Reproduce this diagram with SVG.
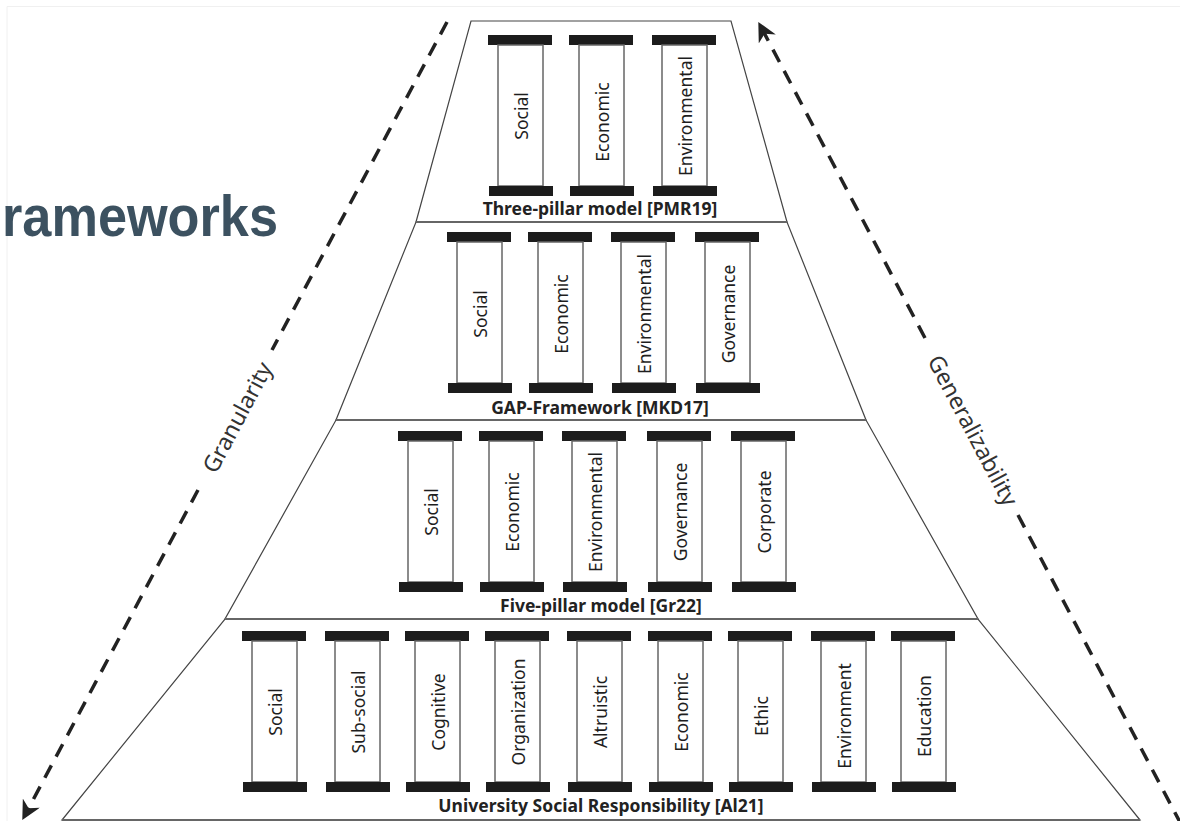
<svg xmlns="http://www.w3.org/2000/svg" xmlns:xlink="http://www.w3.org/1999/xlink" width="1180" height="821" viewBox="0 0 1180 821">
<style>
.tier{fill:#fff;stroke:#444;stroke-width:1.2}
.div{stroke:#666;stroke-width:2}
.pt{font-family:"Noto Sans","Open Sans","DejaVu Sans",sans-serif;font-size:17.5px;fill:#1e1e1e;text-anchor:middle;dominant-baseline:central}
.tl{font-family:"Noto Sans","Open Sans","DejaVu Sans",sans-serif;font-size:17.5px;font-weight:bold;fill:#222;text-anchor:middle}
.ax{font-family:"Noto Sans","Open Sans","DejaVu Sans",sans-serif;font-size:23px;fill:#333;text-anchor:middle;dominant-baseline:central}
.dash{fill:none;stroke:#222;stroke-width:3.5;stroke-dasharray:14 10}
</style>
<defs>
<marker id="ah" viewBox="0 0 10 10" refX="7" refY="5" markerWidth="5.5" markerHeight="5.5" orient="auto" markerUnits="strokeWidth">
<path d="M0,0 L10,5 L0,10 L3,5 z" fill="#222"/>
</marker>
<symbol id="pillar" overflow="visible">
<rect x="0" y="0" width="64" height="10" fill="#1c1c1c"/>
<rect x="10" y="10" width="45" height="141" fill="#fff" stroke="#666" stroke-width="1.5"/>
<rect x="1" y="151" width="64" height="10" fill="#1c1c1c"/>
</symbol>
</defs>
<rect x="0" y="0" width="1180" height="821" fill="#fff"/>
<path d="M7,900 V6.5 H1200" fill="none" stroke="#f0f0f0" stroke-width="1"/>
<text x="2" y="236" font-family="'Liberation Sans',Arial,sans-serif" font-weight="bold" font-size="58" fill="#3c5160" textLength="276" lengthAdjust="spacingAndGlyphs">rameworks</text>

<g id="tiers">
<polygon id="tier1" class="tier" points="471,21 731,21 787,222 416,222"/>
<polygon id="tier2" class="tier" points="416,222 787,222 866,420 336,420"/>
<polygon id="tier3" class="tier" points="336,420 866,420 978,619 225,619"/>
<polygon id="tier4" class="tier" points="225,619 978,619 1140,820 62,820"/>
<line class="div" x1="416" y1="222" x2="787" y2="222"/>
<line class="div" x1="336" y1="420" x2="866" y2="420"/>
<line class="div" x1="225" y1="619" x2="978" y2="619"/>
<line class="div" x1="62" y1="820" x2="1140" y2="820"/>
</g>

<g id="connectors">
<line class="dash" x1="447" y1="22" x2="272" y2="350"/>
<line class="dash" x1="198" y1="490" x2="25" y2="815" marker-end="url(#ah)"/>
<line class="dash" x1="925" y1="338" x2="761" y2="27" marker-end="url(#ah)"/>
<line class="dash" x1="1018" y1="515" x2="1182" y2="826"/>
</g>
<text id="granularity" class="ax" transform="translate(236.6,417) rotate(-61.96)">Granularity</text>
<text id="generalizability" class="ax" transform="translate(973.7,430) rotate(62.24)">Generalizability</text>

<g id="tier1-pillars">
<g id="t1-social"><use href="#pillar" x="488" y="35"/><text class="pt" transform="translate(520.5,116) rotate(-90)">Social</text></g>
<g id="t1-economic"><use href="#pillar" x="569" y="35"/><text class="pt" transform="translate(601.5,122) rotate(-90)">Economic</text></g>
<g id="t1-environmental"><use href="#pillar" x="652" y="35"/><text class="pt" transform="translate(684.5,116) rotate(-90)">Environmental</text></g>
<text id="t1-label" class="tl" x="600" y="215">Three-pillar model [PMR19]</text>
</g>

<g id="tier2-pillars">
<g id="t2-social"><use href="#pillar" x="447" y="232"/><text class="pt" transform="translate(479.5,314) rotate(-90)">Social</text></g>
<g id="t2-economic"><use href="#pillar" x="528" y="232"/><text class="pt" transform="translate(560.5,314) rotate(-90)">Economic</text></g>
<g id="t2-environmental"><use href="#pillar" x="611" y="232"/><text class="pt" transform="translate(643.5,314) rotate(-90)">Environmental</text></g>
<g id="t2-governance"><use href="#pillar" x="695" y="232"/><text class="pt" transform="translate(727.5,314) rotate(-90)">Governance</text></g>
<text id="t2-label" class="tl" x="600" y="414">GAP-Framework [MKD17]</text>
</g>

<g id="tier3-pillars">
<g id="t3-social"><use href="#pillar" x="398" y="431"/><text class="pt" transform="translate(430.5,512) rotate(-90)">Social</text></g>
<g id="t3-economic"><use href="#pillar" x="479" y="431"/><text class="pt" transform="translate(511.5,512) rotate(-90)">Economic</text></g>
<g id="t3-environmental"><use href="#pillar" x="562" y="431"/><text class="pt" transform="translate(594.5,512) rotate(-90)">Environmental</text></g>
<g id="t3-governance"><use href="#pillar" x="647" y="431"/><text class="pt" transform="translate(679.5,512) rotate(-90)">Governance</text></g>
<g id="t3-corporate"><use href="#pillar" x="731" y="431"/><text class="pt" transform="translate(763.5,512) rotate(-90)">Corporate</text></g>
<text id="t3-label" class="tl" x="601" y="612">Five-pillar model [Gr22]</text>
</g>

<g id="tier4-pillars">
<g id="t4-social"><use href="#pillar" x="242" y="631"/><text class="pt" transform="translate(274.5,712) rotate(-90)">Social</text></g>
<g id="t4-subsocial"><use href="#pillar" x="325" y="631"/><text class="pt" transform="translate(357.5,712) rotate(-90)">Sub-social</text></g>
<g id="t4-cognitive"><use href="#pillar" x="405" y="631"/><text class="pt" transform="translate(437.5,712) rotate(-90)">Cognitive</text></g>
<g id="t4-organization"><use href="#pillar" x="485" y="631"/><text class="pt" transform="translate(517.5,712) rotate(-90)">Organization</text></g>
<g id="t4-altruistic"><use href="#pillar" x="567" y="631"/><text class="pt" transform="translate(599.5,712) rotate(-90)">Altruistic</text></g>
<g id="t4-economic"><use href="#pillar" x="648" y="631"/><text class="pt" transform="translate(680.5,712) rotate(-90)">Economic</text></g>
<g id="t4-ethic"><use href="#pillar" x="728" y="631"/><text class="pt" transform="translate(760.5,716) rotate(-90)">Ethic</text></g>
<g id="t4-environment"><use href="#pillar" x="811" y="631"/><text class="pt" transform="translate(843.5,716) rotate(-90)">Environment</text></g>
<g id="t4-education"><use href="#pillar" x="891" y="631"/><text class="pt" transform="translate(923.5,716) rotate(-90)">Education</text></g>
<text id="t4-label" class="tl" x="601" y="812">University Social Responsibility [Al21]</text>
</g>
</svg>
